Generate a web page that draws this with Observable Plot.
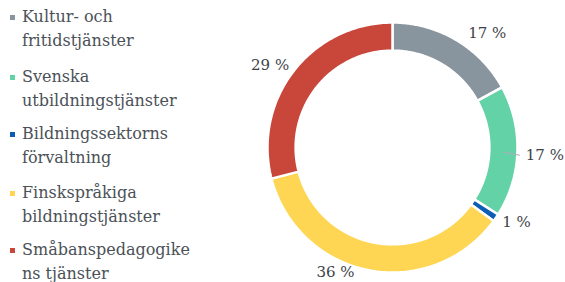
<!DOCTYPE html>
<html><head><meta charset="utf-8">
<script src="https://cdn.jsdelivr.net/npm/d3@7"></script>
<script src="https://cdn.jsdelivr.net/npm/@observablehq/plot@0.6"></script>
<style>
body{margin:0;background:#fff;}
#wrap{position:relative;width:565px;height:282px;overflow:hidden;}
#legend{position:absolute;left:0;top:0;font-family:"DejaVu Serif",serif;font-size:16px;color:#4b5157;}
.item{position:absolute;left:22px;line-height:24px;white-space:nowrap;}
.sw{position:absolute;left:-12px;top:10px;width:5px;height:5px;}
#chart{position:absolute;left:0;top:0;}
</style></head>
<body><div id="wrap"><div id="chart"></div><div id="legend"></div></div>
<script>
const categories = ["Kultur- och fritidstjänster","Svenska utbildningstjänster","Bildningssektorns förvaltning","Finskspråkiga bildningstjänster","Småbanspedagogikens tjänster"];
const legendLines = [["Kultur- och","fritidstjänster"],["Svenska","utbildningstjänster"],["Bildningssektorns","förvaltning"],["Finskspråkiga","bildningstjänster"],["Småbanspedagogike","ns tjänster"]];
const values = [17, 17, 1, 36, 29];
const labels = ["17 %","17 %","1 %","36 %","29 %"];
const colors = ["#89959e","#63d2a7","#0c5db6","#fed653","#c8463a"];

// layout (not data)
const legendTop = [5, 65, 122, 181, 238];
const labelAngleShift = [9, 1, -3, 13.7, -3.9]; // degrees
const labelRadius = [1.19, 1.22, 1.16, 1.10, 1.18];

const pie = d3.pie().sort(null).value(d => d.value)(values.map((v,i)=>({value:v,i})));
const inner = 0.775, outer = 1;
const polys = [];
pie.forEach(p => {
  const n = 120;
  const a0 = p.startAngle, a1 = p.endAngle;
  for (let k=0;k<=n;k++){const a=a0+(a1-a0)*k/n; polys.push({i:p.data.i,x:outer*Math.sin(a),y:outer*Math.cos(a)});}
  for (let k=n;k>=0;k--){const a=a0+(a1-a0)*k/n; polys.push({i:p.data.i,x:inner*Math.sin(a),y:inner*Math.cos(a)});}
  polys.push({i:p.data.i,x:outer*Math.sin(a0),y:outer*Math.cos(a0)});
});
const labelData = pie.map(p => {
  const i = p.data.i;
  const a = (p.startAngle+p.endAngle)/2 + labelAngleShift[i]*Math.PI/180;
  return {i, text: labels[i], x: labelRadius[i]*Math.sin(a), y: labelRadius[i]*Math.cos(a)};
});
// connector for the green slice label
const g = pie[1]; const gm=(g.startAngle+g.endAngle)/2;
const conn = [{x1:0.89*Math.sin(gm), y1:0.89*Math.cos(gm)-0.01, x2:1.02*Math.sin(gm+0.01), y2:1.02*Math.cos(gm+0.01)-0.02}];

const chart = Plot.plot({
  width:565, height:282, margin:0,
  x:{domain:[-1,1], range:[267,517], axis:null},
  y:{domain:[-1,1], range:[272,22], axis:null},
  marks:[
    Plot.line(polys,{x:"x",y:"y",z:"i",fill:d=>colors[d.i],stroke:"#fff",strokeWidth:2.5,strokeLinejoin:"miter", curve:"linear"}),
    Plot.link(conn,{x1:"x1",y1:"y1",x2:"x2",y2:"y2",stroke:"#aab0b5",strokeWidth:1.2}),
    Plot.text(labelData,{x:"x",y:"y",text:"text",fontFamily:"DejaVu Serif",fontSize:15,fill:"#3d4248"})
  ]
});
chart.style.background="transparent";
document.getElementById("chart").appendChild(chart);

const lg = document.getElementById("legend");
legendLines.forEach((ls,i)=>{
  const d=document.createElement("div"); d.className="item"; d.style.top=legendTop[i]+"px";
  d.innerHTML=`<span class="sw" style="background:${colors[i]}"></span>`+ls.join("<br>");
  lg.appendChild(d);
});
</script></body></html>
